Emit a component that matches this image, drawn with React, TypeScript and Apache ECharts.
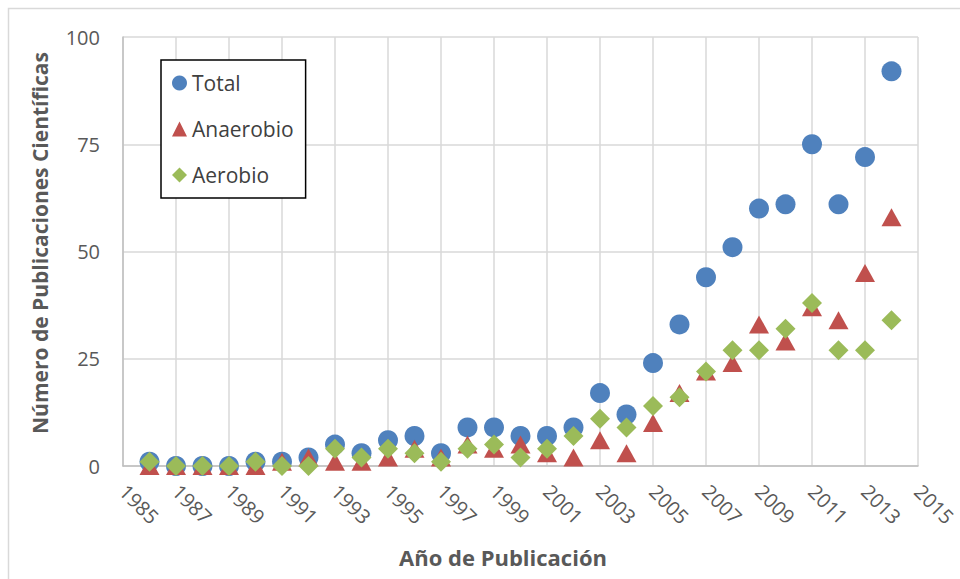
import React, { useEffect, useRef } from "react";
import * as echarts from "echarts";

const years = [1986,1987,1988,1989,1990,1991,1992,1993,1994,1995,1996,1997,1998,1999,2000,2001,2002,2003,2004,2005,2006,2007,2008,2009,2010,2011,2012,2013,2014];
const total = [1,0,0,0,1,1,2,5,3,6,7,3,9,9,7,7,9,17,12,24,33,44,51,60,61,75,61,72,92];
const anaerobio = [0,0,0,0,0,1,2,1,1,2,4,2,5,4,5,3,2,6,3,10,17,22,24,33,29,37,34,45,58];
const aerobio = [1,0,0,0,1,0,0,4,2,4,3,1,4,5,2,4,7,11,9,14,16,22,27,27,32,38,27,27,34];
const seriesNames = ["Total", "Anaerobio", "Aerobio"];
const yTicks = [0, 25, 50, 75, 100];
const xStart = 1985;
const xEnd = 2015;

const FONT = "'Open Sans', 'Noto Sans', sans-serif";

export default function App() {
  const ref = useRef<HTMLDivElement>(null);
  useEffect(() => {
    if (!ref.current) return;
    const chart = echarts.init(ref.current, null, { renderer: "svg" });
    const toPts = (vals: number[]) => years.map((y, i) => [y - xStart, vals[i]]);
    chart.setOption({
      animation: false,
      backgroundColor: "#ffffff",
      textStyle: { fontFamily: FONT },
      grid: { left: 123, top: 37, right: 42, bottom: 113, containLabel: false },
      legend: {
        orient: "vertical",
        left: 161,
        top: 60,
        itemWidth: 15,
        itemHeight: 15,
        itemGap: 24,
        padding: [12, 12, 12, 11],
        borderColor: "#000000",
        borderWidth: 1.5,
        backgroundColor: "#ffffff",
        data: seriesNames,
        textStyle: { fontSize: 21, color: "#404040", fontFamily: FONT, lineHeight: 22 },
      },
      xAxis: {
        type: "value",
        min: 0,
        max: xEnd - xStart,
        interval: 2,
        axisLine: { show: true, lineStyle: { color: "#BFBFBF", width: 1.5 } },
        axisTick: { show: false },
        splitLine: { show: true, lineStyle: { color: "#D9D9D9", width: 1.5 } },
        axisLabel: {
          formatter: (v: number) => String(v + xStart),
          rotate: -45,
          margin: 22,
          fontSize: 20,
          color: "#595959",
          fontFamily: FONT,
        },
      },
      yAxis: {
        type: "value",
        min: yTicks[0],
        max: yTicks[yTicks.length - 1],
        interval: 25,
        axisLine: { show: true, lineStyle: { color: "#BFBFBF", width: 1.5 } },
        axisTick: { show: false },
        splitLine: { show: true, lineStyle: { color: "#D9D9D9", width: 1.5 } },
        axisLabel: { fontSize: 20, color: "#595959", margin: 23, fontFamily: FONT },
      },
      graphic: [
        {
          type: "rect",
          shape: { x: 8.5, y: 8.5, width: 1000, height: 700 },
          style: { fill: "none", stroke: "#D9D9D9", lineWidth: 1.5 },
          silent: true,
        },
        {
          type: "text",
          x: 40,
          y: 243,
          rotation: Math.PI / 2,
          style: {
            text: "Número de Publicaciones Científicas",
            fontSize: 21,
            fontWeight: "bold",
            fill: "#595959",
            fontFamily: FONT,
            align: "center",
            verticalAlign: "middle",
          },
        },
        {
          type: "text",
          x: 503,
          y: 557,
          style: {
            text: "Año de Publicación",
            fontSize: 22,
            fontWeight: "bold",
            fill: "#595959",
            fontFamily: FONT,
            align: "center",
            verticalAlign: "middle",
          },
        },
      ],
      series: [
        {
          name: seriesNames[0],
          type: "scatter",
          symbol: "circle",
          symbolSize: 20,
          clip: false,
          itemStyle: { color: "#4F81BD", opacity: 1 },
          data: toPts(total),
        },
        {
          name: seriesNames[1],
          type: "scatter",
          symbol: "triangle",
          symbolSize: [20, 18],
          clip: false,
          itemStyle: { color: "#C0504D", opacity: 1 },
          data: toPts(anaerobio),
        },
        {
          name: seriesNames[2],
          type: "scatter",
          symbol: "diamond",
          symbolSize: [20, 20],
          clip: false,
          itemStyle: { color: "#9BBB59", opacity: 1 },
          data: toPts(aerobio),
        },
      ],
    });
    return () => chart.dispose();
  }, []);
  return (
    <div
      ref={ref}
      style={{ position: "absolute", left: 0, top: 0, width: 960, height: 579 }}
    />
  );
}
